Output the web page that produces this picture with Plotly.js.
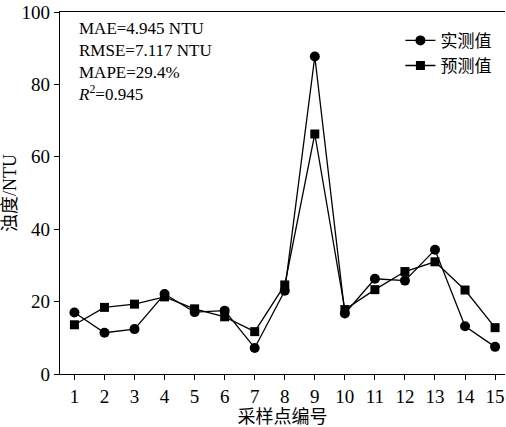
<!DOCTYPE html>
<html><head><meta charset="utf-8">
<script src="https://cdn.plot.ly/plotly-3.0.1.min.js"></script>
<style>body{margin:0;background:#fff}</style>
</head><body>
<div id="chart" style="width:506px;height:427px"></div>
<script>
const sites = [1,2,3,4,5,6,7,8,9,10,11,12,13,14,15];
const measured = [17.0,11.4,12.4,22.1,17.1,17.5,7.2,23.0,87.7,16.7,26.3,25.8,34.3,13.2,7.5];
const predicted = [13.6,18.4,19.3,21.3,18.0,15.8,11.7,24.6,66.3,17.8,23.3,28.3,31.0,23.2,12.8];
const xTicks = ['1','2','3','4','5','6','7','8','9','10','11','12','13','14','15'];
const yTicks = [0,20,40,60,80,100];
const names = ['实测值','预测值'];
const stats = ['MAE=4.945 NTU','RMSE=7.117 NTU','MAPE=29.4%','<i>R</i><sup>2</sup>=0.945'];

const serif = '"Liberation Serif", "Times New Roman", serif';
const cjk = '"Liberation Serif", "Noto Sans CJK SC", serif';

const traces = [
  {x: sites, y: measured, name: names[0], mode: 'lines+markers',
   line: {color: '#000', width: 1.3}, marker: {symbol: 'circle', size: 10, color: '#000'}},
  {x: sites, y: predicted, name: names[1], mode: 'lines+markers',
   line: {color: '#000', width: 1.3}, marker: {symbol: 'square', size: 9, color: '#000'}}
];

const layout = {
  width: 506, height: 427,
  margin: {l: 60, r: 1, t: 12, b: 53},
  paper_bgcolor: '#fff', plot_bgcolor: '#fff',
  font: {family: serif, size: 18, color: '#000'},
  xaxis: {
    range: [0.52, 15.33], tickvals: sites, ticktext: xTicks,
    showline: true, linecolor: '#000', linewidth: 1.3, mirror: true,
    ticks: 'outside', ticklen: 5, tickcolor: '#000', showgrid: false, zeroline: false,
    tickfont: {family: serif, size: 19},
    title: {text: '采样点编号', font: {family: cjk, size: 18}, standoff: 6}
  },
  yaxis: {
    range: [0, 100], tickvals: yTicks,
    showline: true, linecolor: '#000', linewidth: 1.3,
    ticks: 'outside', ticklen: 5, tickcolor: '#000', showgrid: false, zeroline: false,
    tickfont: {family: serif, size: 19},
    title: {text: '浊度/NTU', font: {family: cjk, size: 18}, standoff: 8}
  },
  legend: {x: 0.765, y: 0.97, xanchor: 'left', yanchor: 'top', bgcolor: 'rgba(0,0,0,0)',
    font: {family: cjk, size: 17}, itemwidth: 30, tracegroupgap: 0},
  showlegend: true,
  annotations: [{
    xref: 'paper', yref: 'paper', x: 0.035, y: 0.985, xanchor: 'left', yanchor: 'top',
    align: 'left', showarrow: false, text: stats.join('<br>'),
    font: {family: serif, size: 17}
  }]
};

Plotly.newPlot('chart', traces, layout, {displayModeBar: false, staticPlot: true});
</script>
</body></html>
